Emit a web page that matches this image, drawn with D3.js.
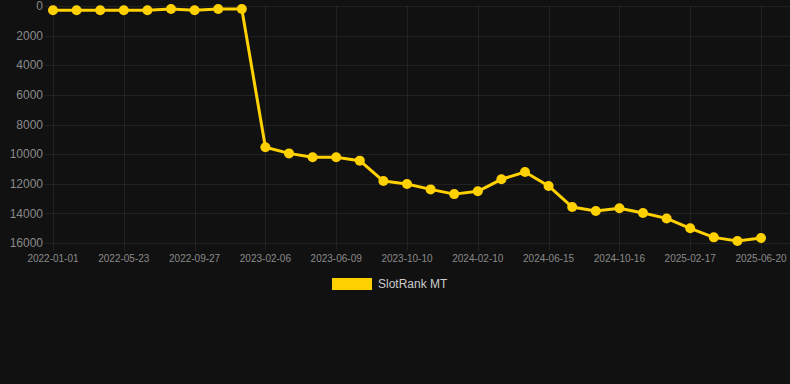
<!DOCTYPE html>
<html><head><meta charset="utf-8">
<script src="https://cdn.jsdelivr.net/npm/d3@7"></script>
<style>
html,body{margin:0;padding:0;background:#111111;}
svg{display:block;}
text{font-family:"Liberation Sans",Arial,Helvetica,sans-serif;}
</style></head>
<body><svg id="c" width="790" height="384"></svg>
<script>
const categories = ["2022-01-01","2022-02-17","2022-04-05","2022-05-23","2022-07-04","2022-08-15","2022-09-27","2022-11-10","2022-12-24","2023-02-06","2023-03-19","2023-04-29","2023-06-09","2023-07-20","2023-08-30","2023-10-10","2023-11-20","2023-12-31","2024-02-10","2024-03-22","2024-05-04","2024-06-15","2024-07-26","2024-09-05","2024-10-16","2024-11-26","2025-01-07","2025-02-17","2025-03-30","2025-05-10","2025-06-20"];
const rankValues = [290,290,290,290,290,200,290,200,200,9540,9950,10210,10210,10440,11820,12020,12380,12700,12510,11700,11210,12150,13570,13840,13660,13980,14340,15010,15620,15870,15660];
const yTicks = [0,2000,4000,6000,8000,10000,12000,14000,16000];
const seriesName = "SlotRank MT";
const lineColor = "#FFD100";

(function(){
const svg = d3.select("#c");
const pL = 53, pR = 761, pT = 6, pB = 243;
const x = d3.scalePoint().domain(categories).range([pL, pR]);
const y = d3.scaleLinear().domain([0,16000]).range([pT, pB]);
const gridColor = "rgba(255,255,255,0.07)";

svg.append("g").selectAll("line").data(yTicks).join("line")
  .attr("x1", 45).attr("x2", 790)
  .attr("y1", d => Math.round(y(d))+0.5).attr("y2", d => Math.round(y(d))+0.5)
  .attr("stroke", gridColor).attr("stroke-width",1);

const shown = categories.filter((d,i) => i % 3 === 0);
svg.append("g").selectAll("line").data(shown).join("line")
  .attr("x1", d => Math.round(x(d))+0.5).attr("x2", d => Math.round(x(d))+0.5)
  .attr("y1", pT).attr("y2", pB+8)
  .attr("stroke", gridColor).attr("stroke-width",1);

svg.append("g").selectAll("text").data(yTicks).join("text")
  .attr("x", 43).attr("y", d => y(d)).attr("dy","0.35em")
  .attr("text-anchor","end").attr("fill","#8a8a8a").attr("font-size",12)
  .text(d => d);

svg.append("g").selectAll("text").data(shown).join("text")
  .attr("x", d => x(d)).attr("y", 262)
  .attr("text-anchor","middle").attr("fill","#8a8a8a").attr("font-size",10)
  .text(d => d);

const pts = categories.map((c,i) => [x(c), y(rankValues[i])]);
svg.append("path").attr("d", d3.line()(pts))
  .attr("fill","none").attr("stroke",lineColor).attr("stroke-width",3)
  .attr("stroke-linejoin","round");
svg.append("g").selectAll("circle").data(pts).join("circle")
  .attr("cx", d => d[0]).attr("cy", d => d[1]).attr("r", 5)
  .attr("fill", lineColor);

svg.append("rect").attr("x",332).attr("y",278).attr("width",40).attr("height",12).attr("fill",lineColor);
svg.append("text").attr("x",378).attr("y",284).attr("dy","0.35em")
  .attr("fill","#cccccc").attr("font-size",12).text(seriesName);
})();
</script></body></html>
